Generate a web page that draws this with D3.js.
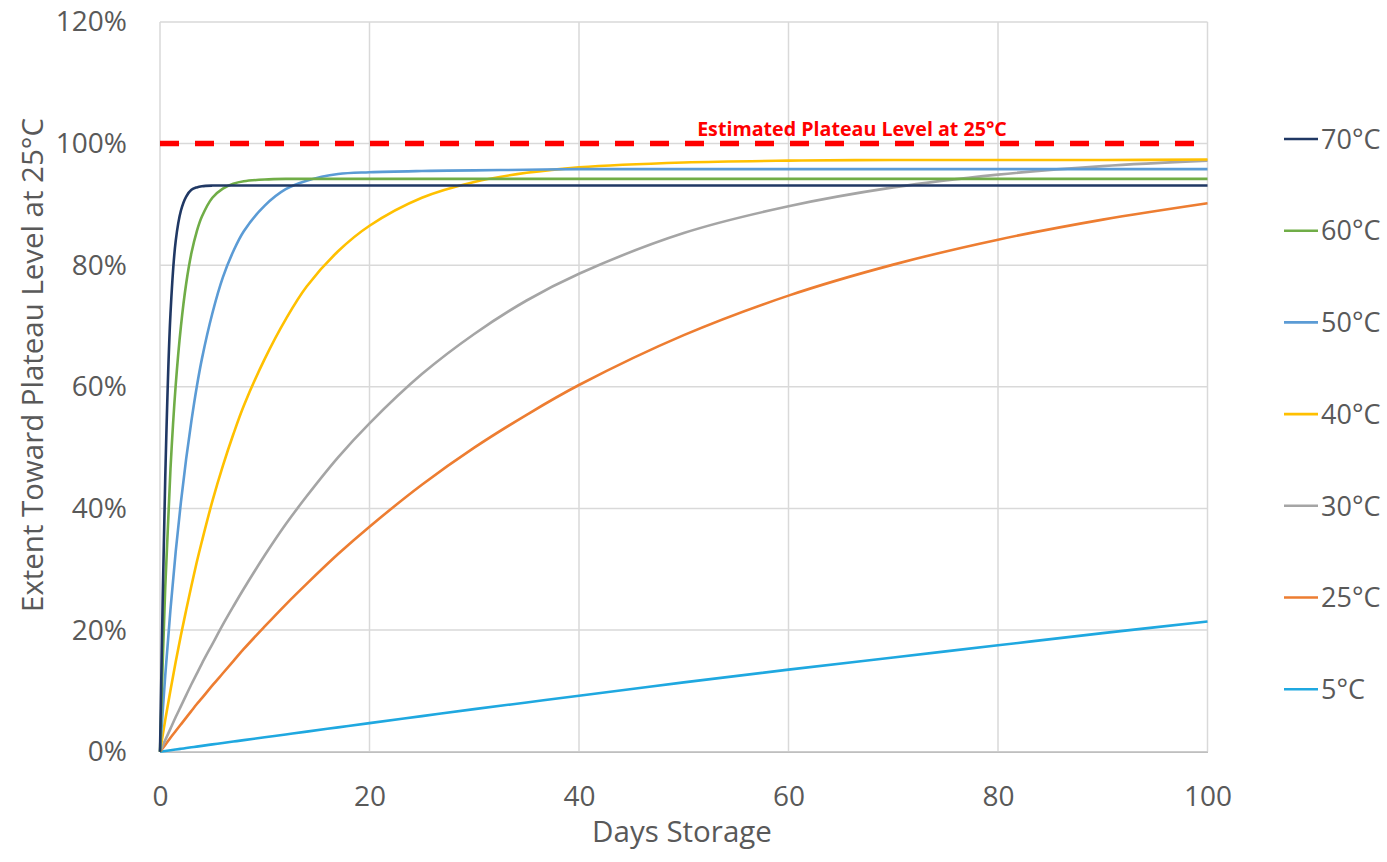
<!DOCTYPE html>
<html>
<head>
<meta charset="utf-8">
<script src="https://cdn.jsdelivr.net/npm/d3@7"></script>
<style>
  html, body { margin: 0; padding: 0; background: #ffffff; }
  svg { display: block; }
  text { font-family: "Open Sans", Lato, sans-serif; }
</style>
</head>
<body>
<svg id="chart" width="1387" height="862"></svg>
<script>
// ---- data ----
const days = [0, 0.5, 1, 1.5, 2, 2.5, 3, 3.5, 4, 5, 6, 7, 8, 10, 12, 14, 17, 20, 25, 30, 35, 40, 50, 60, 70, 80, 90, 100];
const seriesNames = ["70°C", "60°C", "50°C", "40°C", "30°C", "25°C", "5°C"];
const seriesColors = ["#203864", "#70ad47", "#5b9bd5", "#ffc000", "#a5a5a5", "#ed7d31", "#1fa8e0"];
const s70 = [0, 45, 72, 84, 89, 91.3, 92.4, 92.8, 93.0, 93.1, 93.1, 93.1, 93.1, 93.1, 93.1, 93.1, 93.1, 93.1, 93.1, 93.1, 93.1, 93.1, 93.1, 93.1, 93.1, 93.1, 93.1, 93.1];
const s60 = [0, 27, 46.5, 60.3, 70, 77, 82, 85.5, 88, 91.1, 92.6, 93.4, 93.8, 94.1, 94.2, 94.2, 94.2, 94.2, 94.2, 94.2, 94.2, 94.2, 94.2, 94.2, 94.2, 94.2, 94.2, 94.2];
const s50 = [0, 12.5, 23.4, 32.9, 41.1, 48.2, 54.4, 59.9, 64.6, 72.1, 78, 82.3, 85.6, 89.8, 92.5, 93.9, 95.0, 95.3, 95.5, 95.6, 95.7, 95.8, 95.8, 95.8, 95.8, 95.8, 95.8, 95.8];
const s40 = [0, 5.2, 10.1, 14.8, 19.2, 23.3, 27.3, 31.1, 34.6, 41.2, 47, 52.2, 56.9, 64.6, 71.1, 76.5, 82.3, 86.5, 91.1, 93.7, 95.2, 96.1, 96.9, 97.2, 97.3, 97.3, 97.3, 97.4];
const s30 = [0, 1.9, 3.8, 5.7, 7.5, 9.3, 11.1, 12.8, 14.5, 17.7, 20.9, 23.9, 26.8, 32.3, 37.4, 42.0, 48.4, 54.0, 62.1, 68.7, 74.2, 78.6, 85.3, 89.7, 92.8, 94.9, 96.3, 97.2];
const s25 = [0, 1.1, 2.3, 3.4, 4.5, 5.6, 6.7, 7.8, 8.8, 10.9, 12.9, 14.9, 16.9, 20.6, 24.2, 27.6, 32.5, 37.0, 43.9, 50.0, 55.4, 60.3, 68.5, 75.0, 80.1, 84.2, 87.5, 90.2];
const s5 = [0, 0.12, 0.24, 0.36, 0.48, 0.6, 0.72, 0.84, 0.96, 1.2, 1.43, 1.67, 1.9, 2.37, 2.84, 3.3, 4.0, 4.7, 5.85, 7.0, 8.1, 9.2, 11.4, 13.5, 15.5, 17.5, 19.5, 21.4];
const seriesValues = [s70, s60, s50, s40, s30, s25, s5];
const plateauLevel = 100;
const plateauLabel = "Estimated Plateau Level at 25°C";
const xTicks = [0, 20, 40, 60, 80, 100];
const yTicks = [0, 20, 40, 60, 80, 100, 120];
const xTitle = "Days Storage";
const yTitle = "Extent Toward Plateau Level at 25°C";

// ---- layout ----
const svg = d3.select("#chart");
const pLeft = 160, pRight = 1207.5, pTop = 22, pBottom = 751.7;
const x = d3.scaleLinear().domain([0, 100]).range([pLeft, pRight]);
const y = d3.scaleLinear().domain([0, 120]).range([pBottom, pTop]);
const textColor = "#595959";
const fontSize = 28;

// fit a text element to a target width by adjusting its font size
function fitWidth(sel, target) {
  const w = sel.node().getComputedTextLength();
  const fs = parseFloat(sel.style("font-size"));
  if (w > 0) sel.style("font-size", (fs * target / w) + "px");
}

// gridlines
svg.append("g").selectAll("line").data(yTicks).join("line")
  .attr("x1", pLeft).attr("x2", pRight)
  .attr("y1", d => y(d)).attr("y2", d => y(d))
  .attr("stroke", "#d9d9d9").attr("stroke-width", 1.5);
svg.append("g").selectAll("line").data(xTicks).join("line")
  .attr("x1", d => x(d)).attr("x2", d => x(d))
  .attr("y1", pTop).attr("y2", pBottom)
  .attr("stroke", "#d9d9d9").attr("stroke-width", 1.5);

// axes
const xAxis = svg.append("g").attr("transform", `translate(0,${pBottom})`)
  .call(d3.axisBottom(x).tickValues(xTicks).tickSize(0).tickPadding(34).tickFormat(d3.format("d")));
xAxis.select(".domain").attr("stroke", "#bfbfbf").attr("stroke-width", 1.5);
xAxis.selectAll("text").attr("fill", textColor).style("font-size", fontSize + "px");

const yAxis = svg.append("g").attr("transform", `translate(${pLeft},0)`)
  .call(d3.axisLeft(y).tickValues(yTicks).tickSize(0).tickPadding(33).tickFormat(d => d + "%"));
yAxis.select(".domain").remove();
yAxis.selectAll("text").attr("fill", textColor).style("font-size", fontSize + "px");

// plateau line
svg.append("line")
  .attr("x1", x(0)).attr("x2", x(100))
  .attr("y1", y(plateauLevel)).attr("y2", y(plateauLevel))
  .attr("stroke", "#ff0000").attr("stroke-width", 5.5)
  .attr("stroke-dasharray", "19,16");
const pl = svg.append("text")
  .attr("x", 852).attr("y", 136)
  .attr("text-anchor", "middle")
  .attr("fill", "#ff0000").attr("font-weight", "bold")
  .style("font-size", "20px")
  .text(plateauLabel);
fitWidth(pl, 310);

// series lines
const line = d3.line().x((d, i) => x(days[i])).y(d => y(d)).curve(d3.curveCatmullRom.alpha(0.5));
const order = [6, 5, 4, 3, 2, 1, 0];
svg.append("g").selectAll("path").data(order).join("path")
  .attr("d", i => line(seriesValues[i]))
  .attr("fill", "none")
  .attr("stroke", i => seriesColors[i])
  .attr("stroke-width", 2.6)
  .attr("stroke-linejoin", "round");

// legend
const legendY0 = 139, legendStep = 91.7;
const lg = svg.append("g").selectAll("g").data(seriesNames).join("g")
  .attr("transform", (d, i) => `translate(1284,${legendY0 + i * legendStep})`);
lg.append("line").attr("x1", 0).attr("x2", 34).attr("y1", 0).attr("y2", 0)
  .attr("stroke", (d, i) => seriesColors[i]).attr("stroke-width", 2.6);
lg.append("text").attr("x", 37).attr("y", 0).attr("dy", "0.36em")
  .attr("fill", textColor).style("font-size", "27px")
  .text(d => d);

// axis titles
const xt = svg.append("text")
  .attr("x", 682).attr("y", 842)
  .attr("text-anchor", "middle").attr("fill", textColor)
  .style("font-size", fontSize + "px")
  .text(xTitle);
fitWidth(xt, 180);
const yt = svg.append("text")
  .attr("transform", `translate(43,365) rotate(-90)`)
  .attr("text-anchor", "middle").attr("fill", textColor)
  .style("font-size", fontSize + "px")
  .text(yTitle);
fitWidth(yt, 494);
</script>
</body>
</html>
